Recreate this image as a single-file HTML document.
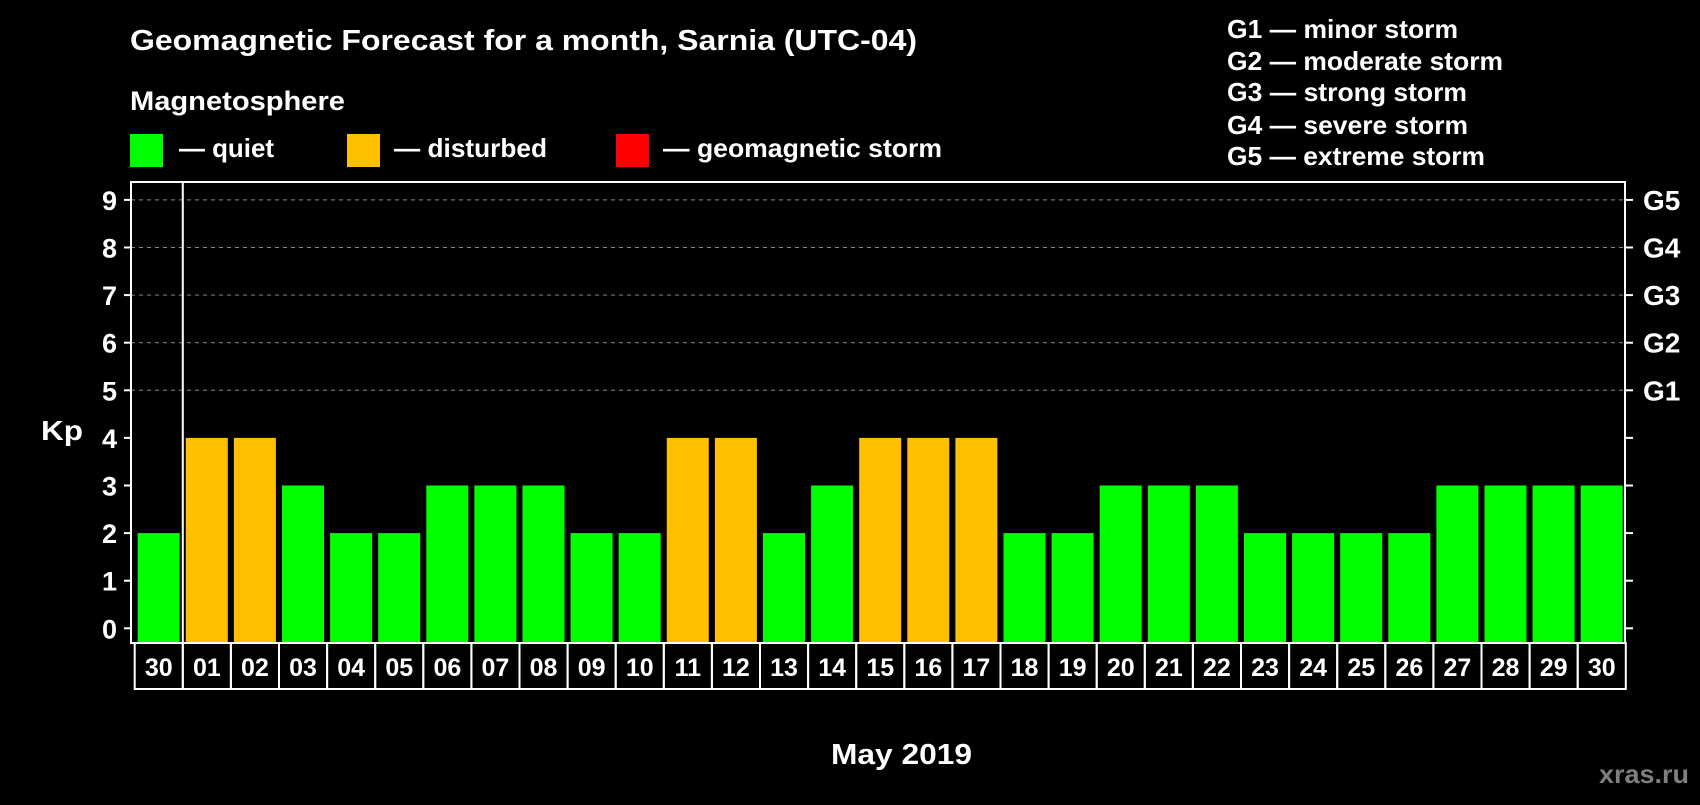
<!DOCTYPE html>
<html><head><meta charset="utf-8"><style>
body{margin:0;background:#000;width:1700px;height:800px;overflow:hidden;font-family:"Liberation Sans",Arial,sans-serif;}
</style></head><body>
<svg id="c" width="1700" height="800" xmlns="http://www.w3.org/2000/svg" font-family="Liberation Sans, Arial, sans-serif" font-weight="bold" fill="#fff">
<text x="130" y="50" font-size="29" textLength="787" lengthAdjust="spacingAndGlyphs">Geomagnetic Forecast for a month, Sarnia (UTC-04)</text>
<text x="130" y="110" font-size="27" textLength="215" lengthAdjust="spacingAndGlyphs">Magnetosphere</text>
<rect x="130" y="134" width="33" height="33" fill="#00ff00"/>
<text x="179" y="157" font-size="26" textLength="95" lengthAdjust="spacingAndGlyphs">— quiet</text>
<rect x="347" y="134" width="33" height="33" fill="#ffc000"/>
<text x="394" y="157" font-size="26" textLength="153" lengthAdjust="spacingAndGlyphs">— disturbed</text>
<rect x="616" y="134" width="33" height="33" fill="#ff0000"/>
<text x="663" y="157" font-size="26" textLength="279" lengthAdjust="spacingAndGlyphs">— geomagnetic storm</text>
<g font-size="26">
<text x="1227" y="38" textLength="231" lengthAdjust="spacingAndGlyphs">G1 — minor storm</text>
<text x="1227" y="70" textLength="276" lengthAdjust="spacingAndGlyphs">G2 — moderate storm</text>
<text x="1227" y="101" textLength="240" lengthAdjust="spacingAndGlyphs">G3 — strong storm</text>
<text x="1227" y="134" textLength="241" lengthAdjust="spacingAndGlyphs">G4 — severe storm</text>
<text x="1227" y="165" textLength="258" lengthAdjust="spacingAndGlyphs">G5 — extreme storm</text>
</g>
<text x="41" y="440" font-size="28" textLength="42" lengthAdjust="spacingAndGlyphs">Kp</text>
<text x="831" y="764" font-size="29" textLength="141" lengthAdjust="spacingAndGlyphs">May 2019</text>
<text x="1599" y="783" font-size="26" textLength="90" lengthAdjust="spacingAndGlyphs" fill="#7f7f7f">xras.ru</text>
<g id="plot"></g>
</svg>
<script>
const labels=["30","01","02","03","04","05","06","07","08","09","10","11","12","13","14","15","16","17","18","19","20","21","22","23","24","25","26","27","28","29","30"];
const kp=[2,4,4,3,2,2,3,3,3,2,2,4,4,2,3,4,4,4,2,2,3,3,3,2,2,2,2,3,3,3,3];
const yTicks=[0,1,2,3,4,5,6,7,8,9];
const gLabels=["G1","G2","G3","G4","G5"];
const gLevels=[5,6,7,8,9];
const NS="http://www.w3.org/2000/svg";
const g=document.getElementById('plot');
const L=131,R=1625,T=182,B=643;
const y=v=>628.3-v*47.6;
const x0=134.7,pitch=48.1;
const xb=i=>x0+i*pitch;
function mk(t,a){const e=document.createElementNS(NS,t);for(const k in a)e.setAttribute(k,a[k]);g.appendChild(e);return e;}
let e;
yTicks.forEach(v=>{
 if(v>=5){e=mk('line',{x1:L,x2:R,y1:y(v),y2:y(v),stroke:'#888','stroke-dasharray':'4,4','stroke-width':1});
 
 }
 e=mk('line',{x1:L-7,x2:L,y1:y(v),y2:y(v),stroke:'#fff','stroke-width':2});
 
 
 e=mk('line',{x1:R,x2:R+8,y1:y(v),y2:y(v),stroke:'#fff','stroke-width':2});
 
 
 e=mk('text',{x:L-14,y:y(v)+10,'font-size':27,'text-anchor':'end'});e.textContent=v;
 
 
});
gLabels.forEach((s,i)=>{
 e=mk('text',{x:R+18,y:y(gLevels[i])+10,'font-size':28});e.textContent=s;
 
 
});
kp.forEach((v,i)=>{
 e=mk('rect',{x:xb(i)+3,y:y(v),width:42,height:B-y(v),fill:v>=5?'#ff0000':v>=4?'#ffc000':'#00ff00'});
 
 
 e=mk('rect',{x:xb(i),y:B,width:pitch,height:46,fill:'none',stroke:'#fff','stroke-width':2});
 
 
 e=mk('text',{x:xb(i)+pitch/2,y:B+33,'font-size':25,'text-anchor':'middle'});e.textContent=labels[i];
 
 
});
e=mk('rect',{x:L,y:T,width:R-L,height:B-T,fill:'none',stroke:'#fff','stroke-width':2});


e=mk('line',{x1:xb(1),x2:xb(1),y1:T,y2:B,stroke:'#fff','stroke-width':2});


</script>
</body></html>
